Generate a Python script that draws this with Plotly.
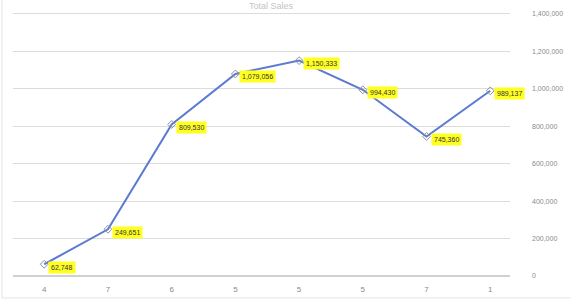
import plotly.graph_objects as go

categories = ["4", "7", "6", "5", "5", "5", "7", "1"]
values = [62748, 249651, 809530, 1079056, 1150333, 994430, 745360, 989137]
value_labels = ["62,748", "249,651", "809,530", "1,079,056", "1,150,333", "994,430", "745,360", "989,137"]
y_ticks = [0, 200000, 400000, 600000, 800000, 1000000, 1200000, 1400000]
y_tick_labels = ["0", "200,000", "400,000", "600,000", "800,000", "1,000,000", "1,200,000", "1,400,000"]
title_text = "Total Sales"

x_idx = list(range(len(values)))

fig = go.Figure()
fig.add_trace(go.Scatter(
    x=x_idx, y=values, mode="lines+markers",
    line=dict(color="#5B7BD0", width=2),
    marker=dict(symbol="diamond-open", size=6, color="#8a8f99", line=dict(width=1)),
    hoverinfo="skip", showlegend=False,
))

for xi, v, t in zip(x_idx, values, value_labels):
    fig.add_annotation(
        x=xi, y=v, text=t, showarrow=False, xanchor="left", yanchor="middle",
        xshift=4, yshift=-3, bgcolor="#FFFF22", borderpad=2,
        font=dict(family="Liberation Sans", size=7, color="#333333"),
    )

fig.add_annotation(
    x=0.52, y=1.0, xref="paper", yref="paper", text=title_text, showarrow=False,
    xanchor="center", yanchor="bottom", yshift=-1,
    font=dict(family="Liberation Sans", size=9, color="#c4c4c4"),
)

fig.update_layout(
    width=571, height=300,
    margin=dict(l=13, r=61, t=12, b=24, autoexpand=False),
    paper_bgcolor="white", plot_bgcolor="white",
    xaxis=dict(
        range=[-0.49, 7.31], tickmode="array", tickvals=x_idx, ticktext=categories,
        showgrid=False, zeroline=False, showline=False, ticks="", automargin=False,
        ticklabelstandoff=7,
        tickfont=dict(family="Liberation Sans", size=8, color="#8a8a8a"),
    ),
    yaxis=dict(
        side="right", range=[0, 1410000], tickmode="array", tickvals=y_ticks, ticktext=y_tick_labels,
        showgrid=True, gridcolor="#dcdcdc", gridwidth=1, zeroline=True, zerolinecolor="#d0d0d0",
        showline=False, ticks="", ticklabelstandoff=21, automargin=False,
        tickfont=dict(family="Liberation Sans", size=7, color="#8a8a8a"),
    ),
)

fig.add_shape(type="rect", xref="paper", yref="paper", x0=-0.022, x1=1.2, y0=-0.083, y1=1.1,
              line=dict(color="#e4e4e4", width=1), layer="below")

fig.write_html(
    "out.html",
    config={"displayModeBar": False, "staticPlot": True},
    post_script="document.body.style.margin='0';document.body.style.overflow='hidden';",
)
